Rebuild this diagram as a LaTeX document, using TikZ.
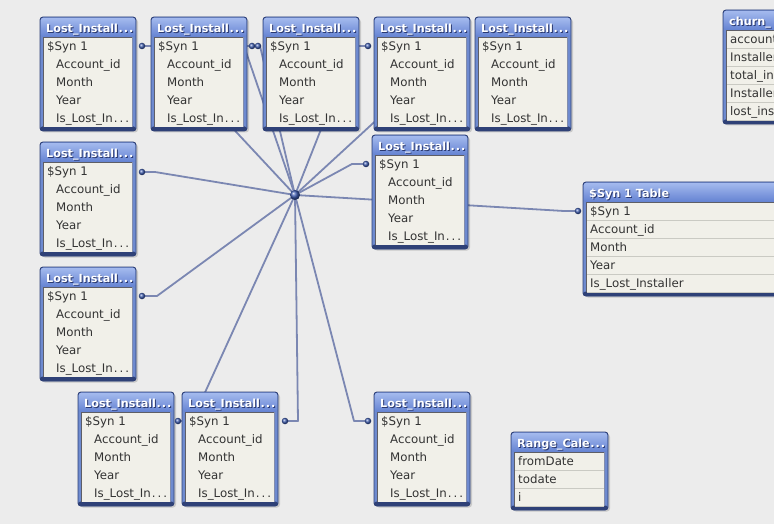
\documentclass[tikz,border=0pt]{standalone}
\usepackage{fontspec}
\newfontfamily\uifont{DejaVu Sans}
\definecolor{bgc}{HTML}{ECECEC}
\definecolor{frm}{HTML}{6E8ACF}
\definecolor{frmdark}{HTML}{2F4177}
\definecolor{ttltop}{HTML}{A4BAEE}
\definecolor{ttlbot}{HTML}{6482D2}
\definecolor{bodyc}{HTML}{F1F0E9}
\definecolor{bodyedge}{HTML}{5E5E66}
\definecolor{sepc}{HTML}{CACAC3}
\definecolor{txtc}{HTML}{333333}
\definecolor{connc}{HTML}{7B87B2}
\definecolor{dotc}{HTML}{3E5CB0}
\definecolor{ttlshadow}{HTML}{2A3970}
\pgfdeclarelayer{back}\pgfdeclarelayer{lines}
\pgfsetlayers{back,lines,main}
\tikzset{
 rowtxt/.style={anchor=base west, inner sep=0, font=\uifont\fontsize{11.8}{13}\selectfont, text=txtc},
 ttltxt/.style={anchor=base west, inner sep=0, font=\uifont\bfseries\fontsize{11.2}{13}\selectfont},
 conn/.style={draw=connc, line width=1.8, line join=round},
 condot/.style={circle, inner sep=0, minimum size=6.5, shading=ball, ball color=dotc},
 hubdot/.style={circle, inner sep=0, minimum size=10, shading=ball, ball color=dotc},
 frame/.style={draw=frmdark, line width=0.9, fill=frm, rounded corners=3, anchor=north west, inner sep=0, outer sep=0},
}
\newcommand\tdots{\kern1pt.\kern2pt.\kern2pt.}
\newcommand\hdots{\kern0.5pt.\kern1pt.\kern1pt.}
\newcommand\tblframe[5]{%
\begin{scope}[shift={(#2,#3)}]
 \fill[black, opacity=0.15, rounded corners=3] (2,2) rectangle ({#4+2},{#5+1.5});
 \node[frame, minimum width=#4, minimum height=#5] (#1) at (0,0) {};
 \shade[top color=ttltop, bottom color=ttlbot, rounded corners=2.5] (0.8,0.8) rectangle ({#4-0.8},20);
 \fill[frmdark, rounded corners=2.5] (0,{#5-4.5}) rectangle (#4,#5);
 \fill[bodyc] (3.5,20) rectangle ({#4-3.5},{#5-4});
 \draw[bodyedge, line width=0.7] (3.5,{#5-4}) -- (3.5,20) -- ({#4-3.5},20);
 \draw[frmdark!60, line width=0.5] ({#4-3.5},20) -- ({#4-3.5},{#5-4});
\end{scope}}
\newcommand\losttbl[3]{%
\tblframe{#1}{#2}{#3}{96}{114}
\begin{scope}[shift={(#2,#3)}]
 \node[ttltxt, text=ttlshadow] (#1-ts) at (7,16.3) {Lost\_Install\hdots};
 \node[ttltxt, text=white] (#1-t) at (6,15.5) {Lost\_Install\hdots};
 \node[rowtxt] (#1-r1) at (7,33.5) {\$Syn 1};
 \node[rowtxt] (#1-r2) at (16,51.5) {Account\_id};
 \node[rowtxt] (#1-r3) at (16,69.5) {Month};
 \node[rowtxt] (#1-r4) at (16,87.5) {Year};
 \node[rowtxt] (#1-r5) at (16,105.5) {Is\_Lost\_In\tdots};
\end{scope}}
% name x y w h title rows
\newcommand\plaintbl[7]{%
\tblframe{#1}{#2}{#3}{#4}{#5}
\begin{scope}[shift={(#2,#3)}]
 \node[ttltxt, text=ttlshadow] (#1-ts) at (7,16.3) {#6};
 \node[ttltxt, text=white] (#1-t) at (6,15.5) {#6};
 \foreach \r [count=\i] in {#7} {
   \draw[sepc, line width=0.6] (4,{20+18*\i}) -- ({#4-4},{20+18*\i});
   \node[rowtxt] (#1-r\i) at (7,{15.5+18*\i}) {\r};
 }
\end{scope}}
\begin{document}
\begin{tikzpicture}[x=1pt,y=-1pt]
\useasboundingbox (0,0) rectangle (774,524);
\begin{pgfonlayer}{back}\fill[bgc] (0,0) rectangle (774,524);\end{pgfonlayer}
\clip (0,0) rectangle (774,524);
% tables
\losttbl{t1}{40}{17}
\losttbl{t2}{151}{17}
\losttbl{t3}{263}{17}
\losttbl{t4}{374}{17}
\losttbl{t5}{475}{17}
\losttbl{t11}{372}{135}
\losttbl{t6}{40}{142}
\losttbl{t7}{40}{267}
\losttbl{t8}{78}{392}
\losttbl{t9}{182}{392}
\losttbl{t10}{374}{392}
\plaintbl{syn}{583}{182}{210}{114}{\$Syn 1 Table}{\$Syn 1,Account\_id,Month,Year,Is\_Lost\_Installer}
\plaintbl{churn}{723}{10}{100}{114}{churn\_}{account,Installer,total\_in,Installer,lost\_ins}
\plaintbl{range}{511}{432}{97}{78}{Range\_Cale\hdots}{fromDate,todate,i}
% dots
\node[hubdot] (hub) at (295,195) {};
\node[condot] (t1-d) at (142,46) {};
\node[condot] (t2-d) at (252,46) {};
\node[condot] (t3-d) at (258,46) {};
\node[condot] (t4-d) at (368,46) {};
\coordinate (t5-d) at (467,46);
\node[condot] (t11-d) at (366,164) {};
\node[condot] (syn-d) at (578,211) {};
\node[condot] (t6-d) at (142,172) {};
\node[condot] (t7-d) at (142,296) {};
\node[condot] (t8-d) at (178,421) {};
\node[condot] (t9-d) at (285,421) {};
\node[condot] (t10-d) at (368,421) {};
\begin{pgfonlayer}{lines}
\draw[conn] (t1-d.center) -- ++(14,0) -- (hub.center);
\draw[conn] (t2-d.center) -- ++(8,0) -- (hub.center);
\draw[conn] (t3-d.center) -- ++(-14,0) -- (hub.center);
\draw[conn] (t4-d.center) -- ++(-14,0) -- (hub.center);
\draw[conn] (t5-d) -- ++(-10,0) -- (hub.center);
\draw[conn] (t11-d.center) -- ++(-14,0) -- (hub.center);
\draw[conn] (syn-d.center) -- ++(-14,0) -- (hub.center);
\draw[conn] (t6-d.center) -- ++(13,0) -- (hub.center);
\draw[conn] (t7-d.center) -- ++(15,0) -- (hub.center);
\draw[conn] (t8-d.center) -- ++(14,0) -- (hub.center);
\draw[conn] (t9-d.center) -- ++(13,0) -- (hub.center);
\draw[conn] (t10-d.center) -- ++(-14,0) -- (hub.center);
\end{pgfonlayer}
\end{tikzpicture}
\end{document}
